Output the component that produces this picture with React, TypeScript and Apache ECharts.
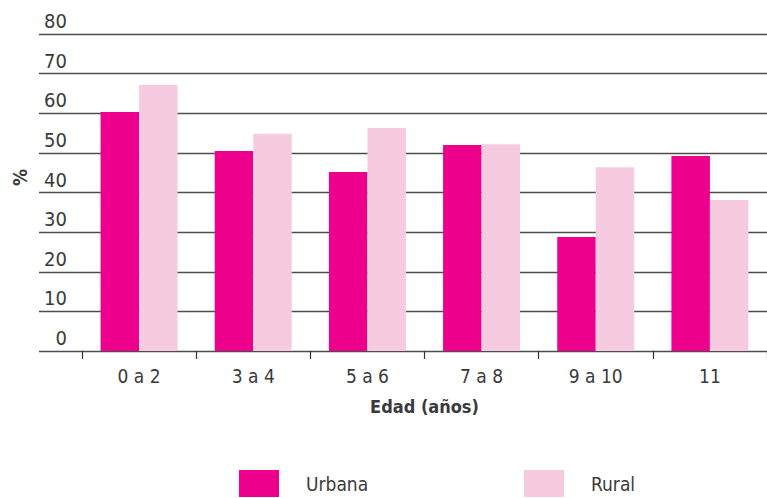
import React, { useEffect, useRef } from "react";
import * as echarts from "echarts";

const categories = ["0 a 2", "3 a 4", "5 a 6", "7 a 8", "9 a 10", "11"];
const urbana = [60.3, 50.5, 45.2, 52.0, 28.8, 49.2];
const rural = [67.1, 54.8, 56.3, 52.2, 46.4, 38.1];
const seriesNames = ["Urbana", "Rural"];
const xTitle = "Edad (años)";
const yTitle = "%";

const FONT = "'Liberation Sans Narrow', 'DejaVu Sans Condensed', 'Roboto', sans-serif";
const PINK = "#EC008C";
const LIGHT = "#F7CBDF";
const TEXT = "#3a3a3a";

export default function App() {
  const ref = useRef<HTMLDivElement>(null);
  useEffect(() => {
    if (!ref.current) return;
    const chart = echarts.init(ref.current, undefined, { renderer: "svg" });
    chart.setOption({
      animation: false,
      textStyle: { fontFamily: FONT },
      grid: [
        { left: 39, right: 0, top: 34, bottom: 147 },
        { left: 82, right: 0, top: 34, bottom: 147 },
      ],
      xAxis: [
        { gridIndex: 0, type: "value", show: false, min: 0, max: 1 },
        {
          gridIndex: 1,
          type: "category",
          data: categories,
          axisLine: { show: false },
          axisTick: { show: true, length: 8, lineStyle: { color: "#333", width: 1.2 } },
          axisLabel: { color: TEXT, fontSize: 19, margin: 15, fontFamily: FONT },
          name: xTitle,
          nameLocation: "middle",
          nameGap: 46,
          nameTextStyle: { color: TEXT, fontSize: 18, fontWeight: "bold", fontFamily: FONT },
        },
      ],
      yAxis: [
        {
          gridIndex: 0,
          type: "value",
          min: 0,
          max: 80,
          interval: 10,
          axisLine: { show: false },
          axisTick: { show: false },
          splitLine: { show: true, lineStyle: { color: "#4d4d4d", width: 1.4 } },
          axisLabel: {
            inside: true,
            align: "right",
            margin: 28,
            verticalAlign: "bottom",
            padding: [0, 0, 3, 0],
            color: TEXT,
            fontSize: 20,
            fontFamily: FONT,
          },
          name: yTitle,
          nameLocation: "middle",
          nameGap: 10,
          nameRotate: 90,
          nameTextStyle: {
            color: TEXT,
            fontSize: 19,
            fontWeight: "bold",
            fontFamily: FONT,
            padding: [0, 0, 0, 30],
          },
        },
        { gridIndex: 1, type: "value", min: 0, max: 80, interval: 10, show: false, splitLine: { show: false } },
      ],
      legend: [
        {
          data: [seriesNames[0]],
          left: 239,
          top: 470,
          padding: 0,
          itemWidth: 40,
          itemHeight: 27,
          icon: "rect",
          textStyle: { color: TEXT, fontSize: 19, fontFamily: FONT, padding: [0, 0, 0, 22] },
        },
        {
          data: [seriesNames[1]],
          left: 524,
          top: 470,
          padding: 0,
          itemWidth: 40,
          itemHeight: 27,
          icon: "rect",
          textStyle: { color: TEXT, fontSize: 19, fontFamily: FONT, padding: [0, 0, 0, 22] },
        },
      ],
      series: [
        {
          name: seriesNames[0],
          type: "bar",
          xAxisIndex: 1,
          yAxisIndex: 1,
          data: urbana,
          barWidth: 38.5,
          barGap: "0%",
          itemStyle: { color: PINK },
        },
        {
          name: seriesNames[1],
          type: "bar",
          xAxisIndex: 1,
          yAxisIndex: 1,
          data: rural,
          barWidth: 38.5,
          barGap: "0%",
          itemStyle: { color: LIGHT },
        },
      ],
    });
    return () => chart.dispose();
  }, []);
  return (
    <div
      ref={ref}
      style={{ position: "fixed", left: 0, top: 0, width: 767, height: 498, background: "#fff" }}
    />
  );
}
